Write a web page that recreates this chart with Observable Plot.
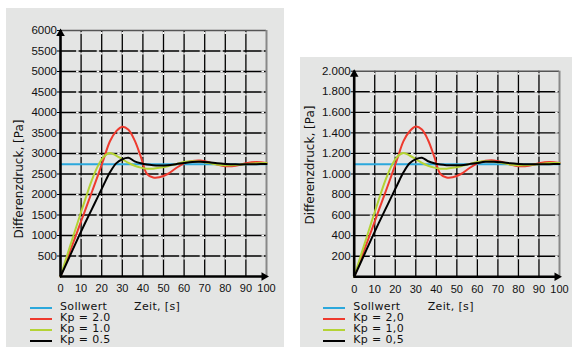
<!DOCTYPE html>
<html><head><meta charset="utf-8">
<script src="https://cdn.jsdelivr.net/npm/d3@7"></script>
<script src="https://cdn.jsdelivr.net/npm/@observablehq/plot@0.6"></script>
<style>
html,body{margin:0;padding:0;background:#fff;}
#root{position:relative;width:572px;height:347px;overflow:hidden;background:#fff;font-family:"DejaVu Sans",Verdana,sans-serif;color:#111;}
.panel{position:absolute;background:#e4e5e4;}
.panel svg{position:absolute;left:0;top:0;overflow:visible}
.lg{position:absolute;font-size:11px;line-height:11px;height:11px;white-space:nowrap;letter-spacing:0.35px}
.sw{position:absolute;height:2px}
.ylab{position:absolute;font-size:12px;line-height:12px;white-space:nowrap;transform:translate(-50%,-50%) rotate(-90deg)}
</style></head><body><div id="root"></div>
<script>
// ---- data ----
const timeS = [0,3,6,9,12,15,18,21,24,27,30,33,36,39,42,45,48,52,56,60,64,68,72,76,80,85,90,95,100];
// left chart (Pa)
const sollL = 2740;
const redL   = [0,400,800,1210,1620,2030,2440,2870,3300,3540,3655,3580,3320,2920,2500,2415,2420,2500,2640,2760,2820,2830,2790,2730,2690,2700,2760,2790,2770];
const greenL = [0,480,950,1420,1880,2320,2680,2920,3010,2950,2860,2770,2700,2655,2630,2630,2650,2690,2740,2790,2810,2800,2770,2730,2715,2720,2740,2765,2770];
const blackL = [0,330,660,990,1310,1620,1930,2240,2540,2760,2860,2895,2810,2760,2730,2715,2710,2715,2740,2770,2795,2800,2785,2760,2745,2735,2735,2740,2745];
// right chart (Pa)
const sollR = 1095;
const redR   = [0,160,320,484,648,812,976,1148,1320,1416,1462,1432,1328,1168,1000,966,968,1000,1056,1104,1128,1132,1116,1092,1076,1080,1104,1116,1108];
const greenR = [0,192,380,568,752,928,1072,1168,1204,1180,1144,1108,1080,1062,1052,1052,1060,1076,1096,1116,1124,1120,1108,1092,1086,1088,1096,1106,1108];
const blackR = [0,132,264,396,524,648,772,896,1016,1104,1144,1158,1124,1104,1092,1086,1084,1086,1096,1108,1118,1120,1114,1104,1098,1094,1094,1096,1098];
// ticks
const xTicks = [0,10,20,30,40,50,60,70,80,90,100];
const yTicksL = [500,1000,1500,2000,2500,3000,3500,4000,4500,5000,5500,6000];
const yTicksR = [200,400,600,800,1000,1200,1400,1600,1800,2000];
// legend / labels
const legendL = ["Sollwert","Kp = 2.0","Kp = 1.0","Kp = 0.5"];
const legendR = ["Sollwert","Kp = 2,0","Kp = 1,0","Kp = 0,5"];
const colors = ["#2ba8dc","#ee3a2e","#b4d334","#000000"];
const xLabel = "Zeit, [s]";
const yLabel = "Differenzdruck, [Pa]";

const fmtDe = d3.formatLocale({decimal:",",thousands:".",grouping:[3],currency:["","€"]}).format(",");

function series(vals){ return timeS.map((t,i)=>({t, v: vals[i]})); }

function panel(cfg){
  const ymax = cfg.yTicks[cfg.yTicks.length-1];
  const grid = cfg.yTicks.slice(0,-1);
  return Plot.plot({
    width: cfg.w, height: cfg.h,
    marginLeft: cfg.ml, marginRight: cfg.mr, marginTop: cfg.mt, marginBottom: cfg.mb,
    style: {background:"transparent", fontFamily:"'Liberation Sans', Arial, sans-serif", fontSize:"11.5px", color:"#111", overflow:"visible"},
    x: {domain:[0,100]},
    y: {domain:[0,ymax]},
    marks: [
      Plot.ruleX(xTicks.slice(1,-1), {stroke:"#000", strokeWidth:1.3}),
      Plot.ruleY(grid, {stroke:"#000", strokeWidth:1.3}),
      Plot.ruleX(xTicks.slice(1,-1), {stroke:"#fff", strokeWidth:1.3, strokeDasharray:"2 18.5", strokeDashoffset:18.5}),
      Plot.ruleY(grid, {stroke:"#fff", strokeWidth:1.3, strokeDasharray:"2.5 18.1", strokeDashoffset:4.5}),
      Plot.ruleY([ymax], {stroke:"#555", strokeWidth:1.5}),
      Plot.ruleX([100], {stroke:"#888", strokeWidth:2}),
      Plot.line([{t:0,v:cfg.soll},{t:100,v:cfg.soll}], {x:"t", y:"v", stroke:colors[0], strokeWidth:2}),
      Plot.line(series(cfg.red), {x:"t", y:"v", stroke:colors[1], strokeWidth:2, curve:"catmull-rom"}),
      Plot.line(series(cfg.green), {x:"t", y:"v", stroke:colors[2], strokeWidth:2, curve:"catmull-rom"}),
      Plot.line(series(cfg.black), {x:"t", y:"v", stroke:colors[3], strokeWidth:2, curve:"catmull-rom"}),
      Plot.ruleX([0], {stroke:"#000", strokeWidth:2.6}),
      Plot.ruleY([0], {stroke:"#000", strokeWidth:2.6}),
      Plot.dot([{t:0,v:ymax}], {x:"t", y:"v", symbol:"triangle", r:3.2, fill:"#000", stroke:null, dy:3}),
      Plot.dot([{t:100,v:0}], {x:"t", y:"v", symbol:"triangle", r:3.2, fill:"#000", stroke:null, rotate:90, dx:-2.5}),
      Plot.axisX({ticks:xTicks, tickSize:0, tickPadding:8, label:null, fontSize:11, tickFormat:d=>String(d)}),
      Plot.axisY({ticks:cfg.yTicks, tickSize:3, tickPadding:0.5, label:null, tickFormat:cfg.fmt, stroke:"#000"})
    ]
  });
}

const root = document.getElementById("root");
function addPanel(p){
  const div = document.createElement("div");
  div.className = "panel";
  Object.assign(div.style, {left:p.x+"px", top:p.y+"px", width:p.w+"px", height:p.h+"px"});
  div.appendChild(panel(p));
  root.appendChild(div);
  // y label
  const yl = document.createElement("div");
  yl.className = "ylab"; yl.textContent = yLabel;
  Object.assign(yl.style, {left:p.ylx+"px", top:p.yly+"px"});
  root.appendChild(yl);
  // x label
  const xl = document.createElement("div");
  xl.className = "lg"; xl.textContent = xLabel;
  Object.assign(xl.style, {left:p.xlx+"px", top:"300.5px"});
  root.appendChild(xl);
  // legend
  p.legend.forEach((name,i)=>{
    const top = 300.5 + i*11.2;
    const sw = document.createElement("div");
    sw.className = "sw";
    Object.assign(sw.style, {left:p.lgx+"px", top:Math.round(top+6)+"px", width:"22px", background:colors[i]});
    root.appendChild(sw);
    const t = document.createElement("div");
    t.className = "lg"; t.textContent = name;
    Object.assign(t.style, {left:(p.lgx+30)+"px", top:top+"px"});
    root.appendChild(t);
  });
}

addPanel({x:6, y:8, w:278, h:339, ml:54, mr:18, mt:22, mb:71,
  yTicks:yTicksL, fmt:d=>String(d), soll:sollL, red:redL, green:greenL, black:blackL,
  ylx:18.5, yly:178.5, xlx:134, lgx:30, legend:legendL});
addPanel({x:300, y:57, w:272, h:290, ml:53.7, mr:13, mt:13.7, mb:70.7,
  yTicks:yTicksR, fmt:fmtDe, soll:sollR, red:redR, green:greenR, black:blackR,
  ylx:310, yly:164.5, xlx:427.7, lgx:323.3, legend:legendR});
</script></body></html>
